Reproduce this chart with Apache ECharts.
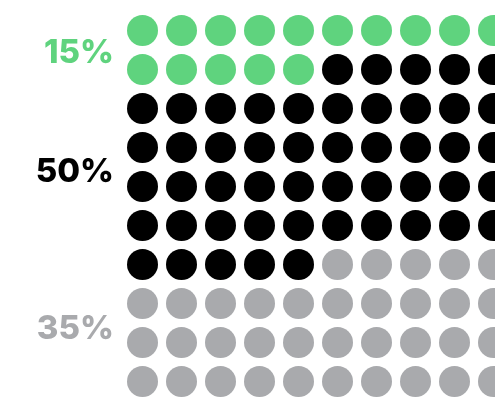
<!DOCTYPE html>
<html>
<head>
<meta charset="utf-8">
<style>
  html, body { margin: 0; padding: 0; background: #ffffff; }
  #chart { width: 495px; height: 398px; }
</style>
<script src="https://cdn.jsdelivr.net/npm/echarts@6/dist/echarts.min.js"></script>
</head>
<body>
<div id="chart"></div>
<script>
// Share of 100 people, one dot each, filled row by row (10 per row)
const groups = ['15%', '50%', '35%'];
const shares = [15, 50, 35];
const groupColors = ['#5fd37e', '#000000', '#a9aaad'];
const perRow = 10;

const W = 495, H = 398;
const cell = 39;                 // dot pitch in px
const gridLeft = 123, gridTop = 11;

const chart = echarts.init(document.getElementById('chart'), null, { renderer: 'canvas' });

let start = 0;
const dotSeries = [];
const labelData = [];
shares.forEach((v, g) => {
  const pts = [];
  for (let k = start; k < start + v; k++) {
    pts.push([k % perRow, Math.floor(k / perRow)]);
  }
  dotSeries.push({
    type: 'scatter',
    xAxisIndex: 0,
    yAxisIndex: 0,
    data: pts,
    symbol: 'circle',
    symbolSize: 31,
    itemStyle: { color: groupColors[g], opacity: 1 },
    silent: true,
    z: 2
  });
  labelData.push({
    value: [1, start + v / 2],
    name: groups[g],
    label: { color: groupColors[g] }
  });
  start += v;
});

// the dot grid runs off the right and bottom edges, so the axis span
// is set from the visible area and the pitch
const gridW = W - gridLeft, gridH = H - gridTop;

const option = {
  animation: false,
  backgroundColor: '#ffffff',
  grid: [
    { left: gridLeft, top: gridTop, width: gridW, height: gridH, containLabel: false },
    { left: 0, top: 25, width: 114, height: 368, containLabel: false }
  ],
  xAxis: [
    { gridIndex: 0, type: 'value', min: -0.5, max: -0.5 + gridW / cell, show: false },
    { gridIndex: 1, type: 'value', min: 0, max: 1, show: false }
  ],
  yAxis: [
    { gridIndex: 0, type: 'value', min: -0.5, max: -0.5 + gridH / cell, inverse: true, show: false },
    { gridIndex: 1, type: 'value', min: 0, max: 100, inverse: true, show: false }
  ],
  series: dotSeries.concat([{
    type: 'scatter',
    xAxisIndex: 1,
    yAxisIndex: 1,
    data: labelData,
    symbolSize: 0,
    silent: true,
    itemStyle: { opacity: 1 },
    label: {
      show: true,
      position: 'left',
      distance: 0,
      opacity: 1,
      formatter: p => p.name,
      fontFamily: 'Inter',
      fontWeight: 800,
      fontSize: 33,
      align: 'right',
      verticalAlign: 'middle'
    }
  }])
};

chart.setOption(option);
</script>
</body>
</html>
